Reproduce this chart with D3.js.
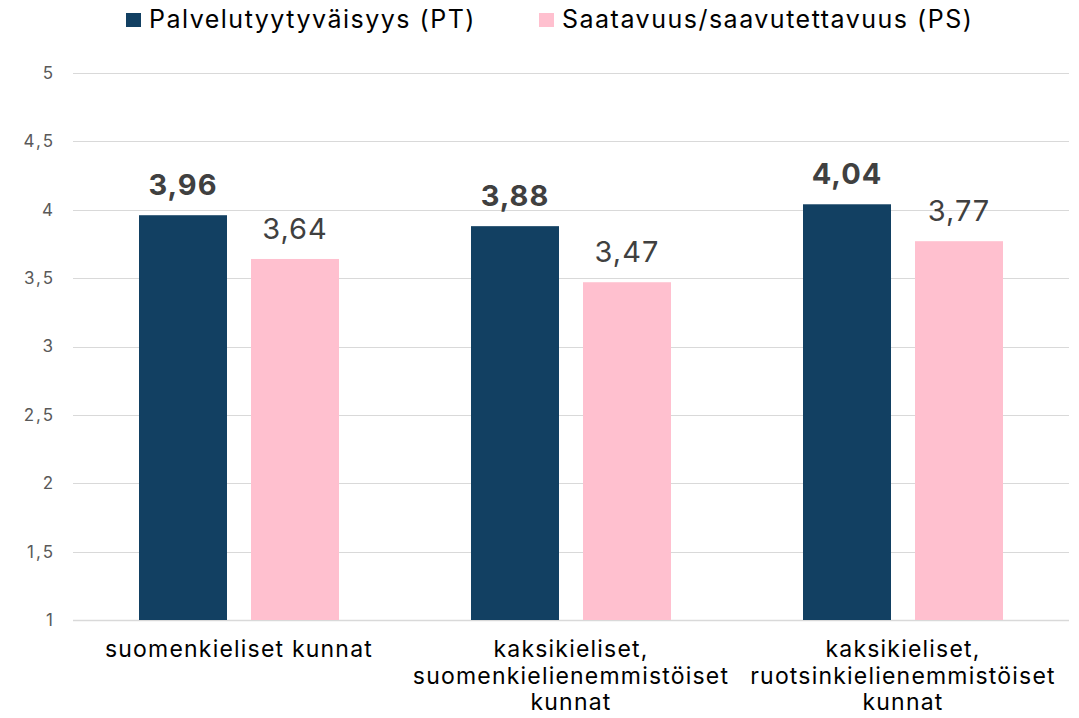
<!DOCTYPE html>
<html>
<head>
<meta charset="utf-8">
<script src="https://cdn.jsdelivr.net/npm/d3@7"></script>
<style>
  body { margin: 0; background: #fff; }
  text { font-family: "Inter", "Open Sans", sans-serif; }
</style>
</head>
<body>
<svg id="chart"></svg>
<script>
// data
const categories = [
  ["suomenkieliset kunnat"],
  ["kaksikieliset,", "suomenkielienemmistöiset", "kunnat"],
  ["kaksikieliset,", "ruotsinkielienemmistöiset", "kunnat"]
];
const seriesNames = ["Palvelutyytyväisyys (PT)", "Saatavuus/saavutettavuus (PS)"];
const ptValues = [3.96, 3.88, 4.04];
const psValues = [3.64, 3.47, 3.77];
const yTicks = [1, 1.5, 2, 2.5, 3, 3.5, 4, 4.5, 5];
const colors = ["#124062", "#ffc0cf"];

const width = 1079, height = 718;
const margin = {top: 73, right: 10, bottom: 98, left: 73};

const svg = d3.select("#chart").attr("width", width).attr("height", height);

const x0 = d3.scaleBand()
  .domain(d3.range(categories.length))
  .range([margin.left, width - margin.right]);

const x1 = d3.scaleBand()
  .domain([0, 1])
  .range([0, x0.bandwidth()])
  .paddingInner(24 / 112)
  .paddingOuter(66 / 112);

const y = d3.scaleLinear().domain([1, 5]).range([height - margin.bottom, margin.top]);

const fmt = v => String(v).replace(".", ",");

// gridlines
svg.append("g")
  .selectAll("line")
  .data(yTicks)
  .join("line")
    .attr("x1", margin.left)
    .attr("x2", width - margin.right)
    .attr("y1", d => Math.round(y(d)) + 0.5)
    .attr("y2", d => Math.round(y(d)) + 0.5)
    .attr("stroke", "#d9d9d9")
    .attr("stroke-width", d => d === 1 ? 1.5 : 1);

// y axis labels
const yAxis = d3.axisLeft(y).tickValues(yTicks).tickFormat(fmt).tickSize(0).tickPadding(18);
svg.append("g")
  .attr("transform", `translate(${margin.left},0)`)
  .call(yAxis)
  .call(g => g.select(".domain").remove())
  .call(g => g.selectAll("text")
    .style("font-family", "Inter, sans-serif")
    .style("font-size", "17px")
    .style("letter-spacing", "2px")
    .attr("fill", "#595959"));

// bars
const data = categories.map((c, i) => ({i, vals: [ptValues[i], psValues[i]]}));
const groups = svg.append("g")
  .selectAll("g")
  .data(data)
  .join("g")
    .attr("transform", d => `translate(${x0(d.i)},0)`);

groups.selectAll("rect")
  .data(d => d.vals.map((v, k) => ({v, k})))
  .join("rect")
    .attr("x", d => x1(d.k))
    .attr("width", x1.bandwidth())
    .attr("y", d => y(d.v))
    .attr("height", d => y(1) - y(d.v))
    .attr("fill", d => colors[d.k]);

groups.selectAll("text.val")
  .data(d => d.vals.map((v, k) => ({v, k})))
  .join("text")
    .attr("class", "val")
    .attr("x", d => x1(d.k) + x1.bandwidth() / 2)
    .attr("y", d => y(d.v) - 20)
    .attr("text-anchor", "middle")
    .style("font-size", "29px")
    .style("letter-spacing", "1px")
    .style("font-weight", d => d.k === 0 ? "bold" : "normal")
    .attr("fill", "#404040")
    .text(d => fmt(d.v));

// category labels
svg.append("g")
  .selectAll("text")
  .data(categories)
  .join("text")
    .attr("text-anchor", "middle")
    .attr("x", (d, i) => x0(i) + x0.bandwidth() / 2)
    .attr("y", 657)
    .style("font-size", "23px")
    .style("letter-spacing", "1.2px")
    .attr("fill", "#000")
    .selectAll("tspan")
    .data(d => d)
    .join("tspan")
      .attr("x", function() { return this.parentNode.getAttribute("x"); })
      .attr("dy", (d, i) => i === 0 ? 0 : 26.5)
      .text(d => d);

// legend
const legendX = [149, 562];
const legend = svg.append("g")
  .selectAll("g")
  .data(seriesNames)
  .join("g")
    .attr("transform", (d, i) => `translate(${legendX[i]},0)`);
legend.append("rect")
  .attr("x", -23).attr("y", 13)
  .attr("width", 15).attr("height", 14)
  .attr("fill", (d, i) => colors[i]);
legend.append("text")
  .attr("x", 0)
  .attr("y", 28)
  .style("font-size", "25px")
  .style("letter-spacing", "1.5px")
  .attr("fill", "#000")
  .text(d => d);
</script>
</body>
</html>
